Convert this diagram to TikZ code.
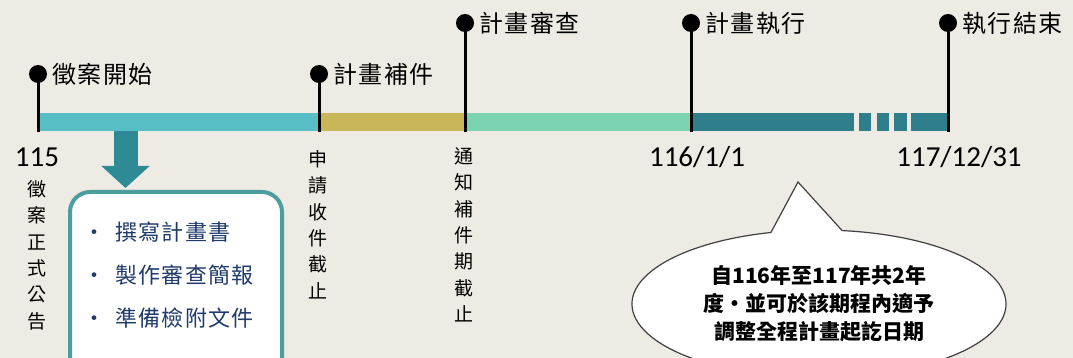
\documentclass[tikz,border=0pt]{standalone}
\usepackage{fontspec}
\newfontfamily\cjk{Noto Sans CJK TC}
\newfontfamily\cjkwide[LetterSpace=6]{Noto Sans CJK TC}
\newfontfamily\datefont{Carlito}
\usetikzlibrary{arrows.meta,positioning,shapes.callouts}
\definecolor{paper}{HTML}{EEEBE5}
\definecolor{segA}{HTML}{57BEC6}
\definecolor{segB}{HTML}{C8B658}
\definecolor{segC}{HTML}{7BD3B2}
\definecolor{segD}{HTML}{2F7E8B}
\definecolor{arrowteal}{HTML}{2E8B95}
\definecolor{boxteal}{HTML}{4C9D9E}
\definecolor{navy}{HTML}{1F3A6B}
\tikzset{
        pin/.style={ % black head of each milestone
            circle, fill=black, minimum size=18pt, inner sep=0pt},
        stem/.style={line width=3pt},
        milestone/.style={font=\cjkwide\fontsize{24}{24}\selectfont, inner sep=0pt},
        date/.style={font=\datefont\fontsize{29}{29}\selectfont, inner sep=0pt},
        deadline/.style={ % vertical text under the bar
            font=\cjk\fontsize{19}{26.3}\selectfont, align=center,
            inner sep=0pt, anchor=north},
        taskbox/.style={draw=boxteal, line width=4pt, fill=white,
            rounded corners=20pt, minimum width=212pt, minimum height=190pt,
            anchor=north west},
        task/.style={font=\cjkwide\fontsize{22}{22}\selectfont, text=navy,
            anchor=west, inner sep=0pt},
        downarrow/.style={draw=arrowteal, line width=24pt,
            -{Triangle[width=47pt,length=22pt]}},
        note/.style={ % speech bubble
            ellipse callout, draw=black!75, fill=white, line width=1.2pt,
            minimum width=374pt, minimum height=148pt, callout pointer arc=22,
            font=\cjk\bfseries\fontsize{21}{28}\selectfont, align=center,
            inner sep=0pt}
        }
\begin{document}
\begin{tikzpicture}[x=1pt, y=-1pt]
    \useasboundingbox (0,0) rectangle (1073,358);
    \fill[paper] (0,0) rectangle (1073,358);

    % the bar
    \fill[segA] (37,113) rectangle (319,131);
    \fill[segB] (319,113) rectangle (465,131);
    \fill[segC] (465,113) rectangle (691,131);
    \fill[segD] (691,113) rectangle (854,131);
    \foreach \a/\b in {859/871, 877/889, 894/907, 911/948}
        \fill[segD] (\a,113) rectangle (\b,131);

    % milestones
    \node[pin] (start)   at (38,74)  {};
    \node[pin] (resub)   at (319,74) {};
    \node[pin] (review)  at (465,23) {};
    \node[pin] (run)     at (691,23) {};
    \node[pin] (finish)  at (948,23) {};
    \foreach \p in {start,resub,review,run,finish}
        \draw[stem] (\p.center) -- (\p.center |- 0,132);

    \node[milestone, right=5pt of start]  (startlbl)  {徵案開始};
    \node[milestone, right=5pt of resub]  (resublbl)  {計畫補件};
    \node[milestone, right=5pt of review] (reviewlbl) {計畫審查};
    \node[milestone, right=5pt of run]    (runlbl)    {計畫執行};
    \node[milestone, right=5pt of finish] (finishlbl) {執行結束};

    % dates and deadlines
    \node[date] (d115) at (37,157)  {115};
    \node[date] (d116) at (697,157) {116/1/1};
    \node[date] (d117) at (959,157) {117/12/31};

    \node[deadline] (announce) at (37,180.5)  {徵\\案\\正\\式\\公\\告};
    \node[deadline] (apply)    at (318,150.5) {申\\請\\收\\件\\截\\止};
    \node[deadline] (notify)   at (464,147.5) {通\\知\\補\\件\\期\\截\\止};

    % what to prepare
    \node[taskbox] (tasks) at (68,190) {};
    \coordinate (arrowtop) at (125.5,131);
    \draw[downarrow] (arrowtop) -- (arrowtop |- 0,188);
    \node[task] (task1) at (83,232) {•\hspace{10pt}撰寫計畫書};
    \node[task] (task2) at (83,275) {•\hspace{10pt}製作審查簡報};
    \node[task] (task3) at (83,318) {•\hspace{10pt}準備檢附文件};

    % execution period
    \node[note, callout absolute pointer={(798,182)}] (period) at (819,304)
        {自116年至117年共2年\\度・並可於該期程內適予\\調整全程計畫起訖日期};
\end{tikzpicture}
\end{document}
